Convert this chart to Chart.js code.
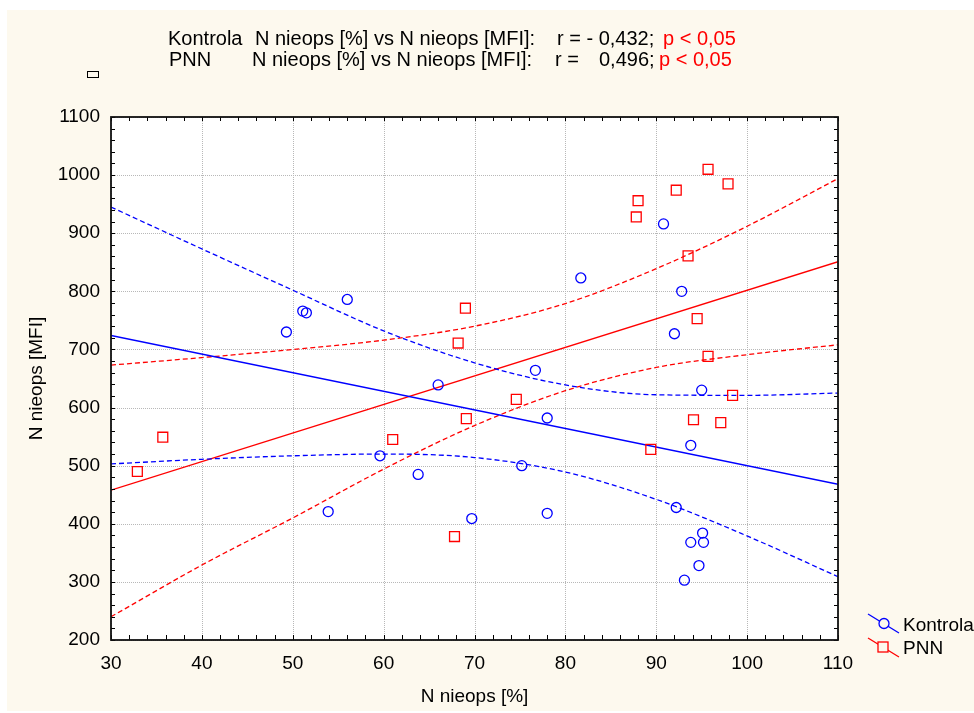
<!DOCTYPE html>
<html>
<head>
<meta charset="utf-8">
<script src="https://cdn.jsdelivr.net/npm/chart.js@4.4.0/dist/chart.umd.min.js"></script>
<style>
  html, body { margin: 0; padding: 0; background: #fff; }
  #wrap { position: relative; width: 974px; height: 713px; overflow: hidden; }
  #chart { position: absolute; left: 0; top: 0; }
  .hdr { position: absolute; font-family: 'Liberation Sans', Arial, sans-serif; font-size: 20px; line-height: 20px; color: #000; white-space: pre; }
  .red { color: #ff0000; }
</style>
</head>
<body>
<div id="wrap">
  <canvas id="chart" width="974" height="713"></canvas>
  <div class="hdr" style="left:168px;top:28px">Kontrola</div>
  <div class="hdr" style="left:255px;top:28px">N nieops [%] vs N nieops [MFI]:</div>
  <div class="hdr" style="left:557px;top:28px">r = - 0,432;</div>
  <div class="hdr red" style="left:663px;top:28px">p &lt; 0,05</div>
  <div class="hdr" style="left:169px;top:49px">PNN</div>
  <div class="hdr" style="left:252px;top:49px">N nieops [%] vs N nieops [MFI]:</div>
  <div class="hdr" style="left:555px;top:49px">r =</div>
  <div class="hdr" style="left:599px;top:49px">0,496;</div>
  <div class="hdr red" style="left:659px;top:49px">p &lt; 0,05</div>
</div>
<script>
// values
const kontrolaX = [49.3, 51.1, 51.5, 56.0, 53.9, 59.6, 63.8, 66.0, 69.7, 75.2, 76.7, 78.0, 78.0, 81.7, 90.8, 92.8, 92.0, 95.0, 93.8, 92.2, 95.1, 93.8, 95.2, 94.7, 93.1];
const kontrolaY = [730, 766, 763, 786, 421, 517, 485, 639, 409, 500, 664, 582, 418, 823, 916, 800, 727, 630, 535, 428, 384, 368, 368, 328, 303];
const pnnX = [32.9, 35.7, 61.0, 67.8, 68.2, 69.0, 69.1, 74.6, 88.0, 87.8, 92.2, 95.7, 97.9, 93.5, 94.5, 95.7, 98.4, 94.1, 97.1, 89.4];
const pnnY = [490, 549, 545, 378, 711, 771, 581, 614, 956, 928, 974, 1010, 985, 861, 753, 688, 621, 579, 574, 528];

// regression lines and 95% bands
const fitX = [30, 110];
const kontrolaFit = [724, 468];
const pnnFit = [458, 851];
const bandX = [30, 40, 50, 60, 70, 80, 90, 100, 110];
const kontrolaUpper = [945, 873, 802, 732, 677, 639, 622, 621, 625];
const kontrolaLower = [503, 511, 517, 520, 514, 489, 442, 379, 309];
const pnnUpper = [673, 686, 700, 716, 740, 779, 839, 912, 994];
const pnnLower = [240, 329, 410, 494, 569, 629, 669, 691, 708];

const xTicks = [30, 40, 50, 60, 70, 80, 90, 100, 110];
const yTicks = [200, 300, 400, 500, 600, 700, 800, 900, 1000, 1100];

const BLUE = '#0000ff';
const RED = '#ff0000';
const FONT = 'Liberation Sans';

const pts = (xs, ys) => xs.map((x, i) => ({x: x, y: ys[i]}));

function lineSet(xs, ys, color, dashed) {
  return {
    type: 'line',
    data: pts(xs, ys),
    borderColor: color,
    borderWidth: 1.3,
    borderDash: dashed ? [5, 3] : [],
    pointRadius: 0,
    fill: false,
    cubicInterpolationMode: 'monotone'
  };
}

const frame = {
  id: 'frame',
  beforeDraw(chart) {
    const {ctx, chartArea: a} = chart;
    ctx.save();
    ctx.fillStyle = '#ffffff';
    ctx.fillRect(0, 0, chart.width, chart.height);
    ctx.fillStyle = '#fdf9ee';
    ctx.fillRect(7, 10, chart.width - 7, chart.height - 12);
    ctx.fillStyle = '#ffffff';
    ctx.fillRect(a.left, a.top, a.right - a.left, a.bottom - a.top);
    ctx.restore();
  },
  beforeDatasetsDraw(chart) {
    const {ctx, chartArea: a, scales} = chart;
    ctx.save();
    ctx.strokeStyle = '#b8b8b8';
    ctx.lineWidth = 1;
    ctx.setLineDash([1, 1]);
    xTicks.forEach(v => {
      const px = Math.round(scales.x.getPixelForValue(v)) + 0.5;
      ctx.beginPath(); ctx.moveTo(px, a.top); ctx.lineTo(px, a.bottom); ctx.stroke();
    });
    yTicks.forEach(v => {
      const py = Math.round(scales.y.getPixelForValue(v)) + 0.5;
      ctx.beginPath(); ctx.moveTo(a.left, py); ctx.lineTo(a.right, py); ctx.stroke();
    });
    ctx.restore();
  },
  afterDatasetsDraw(chart) {
    const {ctx, chartArea: a, scales} = chart;
    ctx.save();
    ctx.strokeStyle = '#000';
    ctx.lineWidth = 1;
    ctx.beginPath();
    for (let v = 30; v <= 110; v += 2) {
      const px = Math.round(scales.x.getPixelForValue(v)) + 0.5;
      ctx.moveTo(px, a.bottom); ctx.lineTo(px, a.bottom - 5);
      ctx.moveTo(px, a.top); ctx.lineTo(px, a.top + 4);
    }
    for (let v = 200; v <= 1100; v += 20) {
      const py = Math.round(scales.y.getPixelForValue(v)) + 0.5;
      ctx.moveTo(a.left, py); ctx.lineTo(a.left + 4, py);
      ctx.moveTo(a.right, py); ctx.lineTo(a.right - 4, py);
    }
    ctx.stroke();
    ctx.lineWidth = 1.8;
    ctx.strokeStyle = '#111';
    ctx.strokeRect(a.left, a.top, a.right - a.left, a.bottom - a.top);
    ctx.restore();
  },
  afterDraw(chart) {
    const ctx = chart.ctx;
    ctx.save();
    // small empty box, top left
    ctx.strokeStyle = '#000';
    ctx.lineWidth = 1;
    ctx.strokeRect(87.5, 71.5, 11, 6);
    // legend
    ctx.lineWidth = 1.3;
    ctx.strokeStyle = BLUE;
    ctx.beginPath(); ctx.moveTo(868, 614); ctx.lineTo(899, 633); ctx.stroke();
    ctx.fillStyle = '#fdf9ee';
    ctx.beginPath(); ctx.arc(884, 623.5, 5, 0, Math.PI * 2); ctx.fill(); ctx.stroke();
    ctx.strokeStyle = RED;
    ctx.beginPath(); ctx.moveTo(868, 638); ctx.lineTo(899, 657); ctx.stroke();
    ctx.fillRect(878, 642, 10, 10);
    ctx.strokeRect(878, 642, 10, 10);
    ctx.fillStyle = '#000';
    ctx.font = '19px "' + FONT + '"';
    ctx.textBaseline = 'alphabetic';
    ctx.fillText('Kontrola', 903, 631);
    ctx.fillText('PNN', 903, 654);
    ctx.restore();
  }
};

new Chart(document.getElementById('chart'), {
  type: 'scatter',
  data: {
    datasets: [
      {
        label: 'Kontrola',
        data: pts(kontrolaX, kontrolaY),
        pointStyle: 'circle',
        pointRadius: 5,
        borderColor: BLUE,
        backgroundColor: 'rgba(0,0,0,0)',
        borderWidth: 1.3
      },
      {
        label: 'PNN',
        data: pts(pnnX, pnnY),
        pointStyle: 'rect',
        pointRadius: 7,
        borderColor: RED,
        backgroundColor: 'rgba(0,0,0,0)',
        borderWidth: 1.3
      },
      lineSet(fitX, kontrolaFit, BLUE, false),
      lineSet(bandX, kontrolaUpper, BLUE, true),
      lineSet(bandX, kontrolaLower, BLUE, true),
      lineSet(fitX, pnnFit, RED, false),
      lineSet(bandX, pnnUpper, RED, true),
      lineSet(bandX, pnnLower, RED, true)
    ]
  },
  options: {
    responsive: false,
    animation: false,
    devicePixelRatio: 1,
    layout: {padding: {left: 0, right: 136, top: 117, bottom: 0}},
    plugins: {legend: {display: false}, tooltip: {enabled: false}},
    scales: {
      x: {
        type: 'linear',
        min: 30,
        max: 110,
        afterBuildTicks: s => { s.ticks = xTicks.map(v => ({value: v})); },
        afterFit: s => { s.height = 73; },
        grid: {display: false},
        border: {display: false},
        ticks: {font: {family: FONT, size: 19}, color: '#000', padding: 4, maxRotation: 0, autoSkip: false,
                callback: v => String(v)},
        title: {display: true, text: 'N nieops [%]', font: {family: FONT, size: 19}, color: '#000', padding: {top: 0, bottom: 5}}
      },
      y: {
        type: 'linear',
        min: 200,
        max: 1100,
        afterBuildTicks: s => { s.ticks = yTicks.map(v => ({value: v})); },
        afterFit: s => { s.width = 111; },
        grid: {display: false},
        border: {display: false},
        ticks: {font: {family: FONT, size: 19}, color: '#000', padding: 3, autoSkip: false,
                callback: v => String(v)},
        title: {display: true, text: 'N nieops [MFI]', font: {family: FONT, size: 19}, color: '#000', padding: {top: 25, bottom: 0}}
      }
    }
  },
  plugins: [frame]
});
</script>
</body>
</html>
